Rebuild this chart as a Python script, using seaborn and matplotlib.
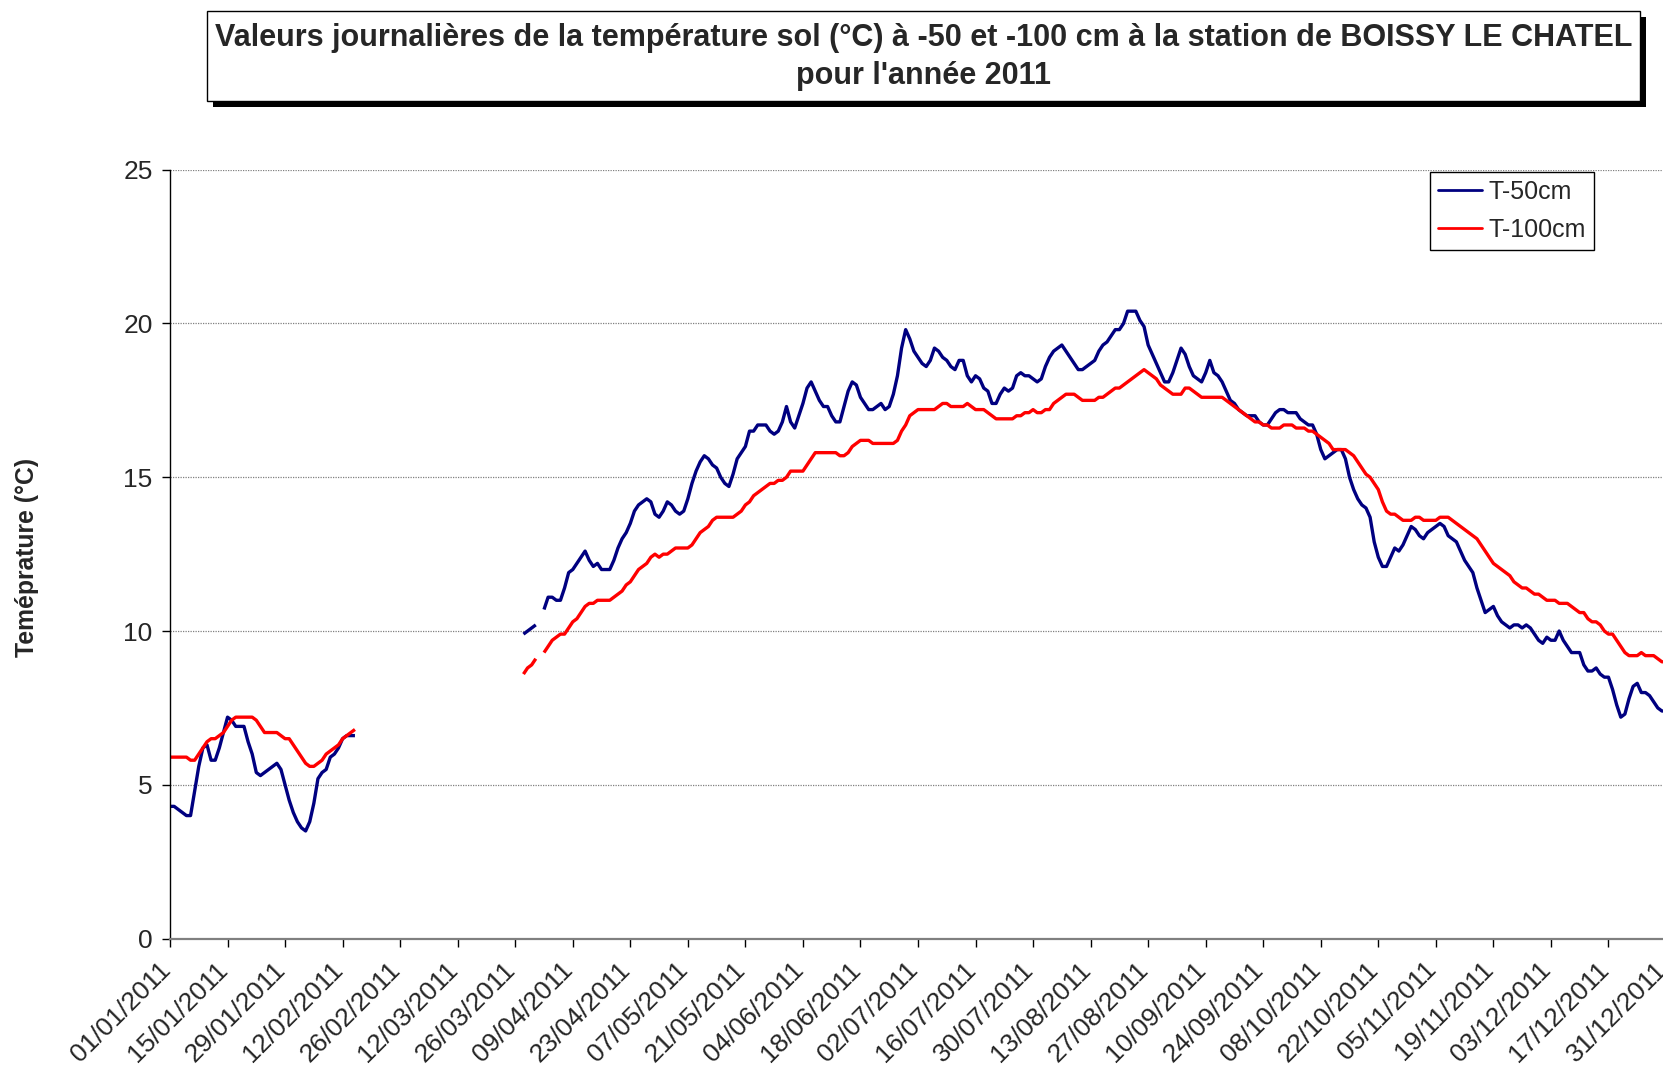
import numpy as np
import pandas as pd
import seaborn as sns
import matplotlib
matplotlib.use("Agg")
import matplotlib.pyplot as plt
import matplotlib.dates as mdates
from matplotlib.patches import Rectangle
from matplotlib.lines import Line2D
from matplotlib.transforms import ScaledTranslation

# ---------------- data ----------------
title_lines = ["Valeurs journalières de la température sol (°C) à -50 et -100 cm à la station de BOISSY LE CHATEL",
               "pour l'année 2011"]
y_label = "Teméprature (°C)"
series_names = ["T-50cm", "T-100cm"]
series_colors = ["#000080", "#FF0000"]

# segment start dates
seg_starts = ["2011-01-01", "2011-03-28", "2011-04-02"]

# T-50cm
t50_jan_feb = [4.3, 4.3, 4.2, 4.1, 4.0, 4.0, 4.8, 5.6, 6.2, 6.3,
               5.8, 5.8, 6.2, 6.7, 7.2, 7.1, 6.9, 6.9, 6.9, 6.4,
               6.0, 5.4, 5.3, 5.4, 5.5, 5.6, 5.7, 5.5, 5.0, 4.5,
               4.1, 3.8, 3.6, 3.5, 3.8, 4.4, 5.2, 5.4, 5.5, 5.9,
               6.0, 6.2, 6.5, 6.6, 6.6, 6.6]
t50_end_mar = [9.9, 10.0, 10.1, 10.2]
t50_apr_dec = [10.7, 11.1, 11.1, 11.0, 11.0, 11.4, 11.9, 12.0, 12.2, 12.4,
               12.6, 12.3, 12.1, 12.2, 12.0, 12.0, 12.0, 12.3, 12.7, 13.0,
               13.2, 13.5, 13.9, 14.1, 14.2, 14.3, 14.2, 13.8, 13.7, 13.9,
               14.2, 14.1, 13.9, 13.8, 13.9, 14.3, 14.8, 15.2, 15.5, 15.7,
               15.6, 15.4, 15.3, 15.0, 14.8, 14.7, 15.1, 15.6, 15.8, 16.0,
               16.5, 16.5, 16.7, 16.7, 16.7, 16.5, 16.4, 16.5, 16.8, 17.3,
               16.8, 16.6, 17.0, 17.4, 17.9, 18.1, 17.8, 17.5, 17.3, 17.3,
               17.0, 16.8, 16.8, 17.3, 17.8, 18.1, 18.0, 17.6, 17.4, 17.2,
               17.2, 17.3, 17.4, 17.2, 17.3, 17.7, 18.3, 19.2, 19.8, 19.5,
               19.1, 18.9, 18.7, 18.6, 18.8, 19.2, 19.1, 18.9, 18.8, 18.6,
               18.5, 18.8, 18.8, 18.3, 18.1, 18.3, 18.2, 17.9, 17.8, 17.4,
               17.4, 17.7, 17.9, 17.8, 17.9, 18.3, 18.4, 18.3, 18.3, 18.2,
               18.1, 18.2, 18.6, 18.9, 19.1, 19.2, 19.3, 19.1, 18.9, 18.7,
               18.5, 18.5, 18.6, 18.7, 18.8, 19.1, 19.3, 19.4, 19.6, 19.8,
               19.8, 20.0, 20.4, 20.4, 20.4, 20.1, 19.9, 19.3, 19.0, 18.7,
               18.4, 18.1, 18.1, 18.4, 18.8, 19.2, 19.0, 18.6, 18.3, 18.2,
               18.1, 18.4, 18.8, 18.4, 18.3, 18.1, 17.8, 17.5, 17.4, 17.2,
               17.1, 17.0, 17.0, 17.0, 16.8, 16.7, 16.7, 16.9, 17.1, 17.2,
               17.2, 17.1, 17.1, 17.1, 16.9, 16.8, 16.7, 16.7, 16.4, 15.9,
               15.6, 15.7, 15.8, 15.9, 15.9, 15.6, 15.0, 14.6, 14.3, 14.1,
               14.0, 13.7, 12.9, 12.4, 12.1, 12.1, 12.4, 12.7, 12.6, 12.8,
               13.1, 13.4, 13.3, 13.1, 13.0, 13.2, 13.3, 13.4, 13.5, 13.4,
               13.1, 13.0, 12.9, 12.6, 12.3, 12.1, 11.9, 11.4, 11.0, 10.6,
               10.7, 10.8, 10.5, 10.3, 10.2, 10.1, 10.2, 10.2, 10.1, 10.2,
               10.1, 9.9, 9.7, 9.6, 9.8, 9.7, 9.7, 10.0, 9.7, 9.5,
               9.3, 9.3, 9.3, 8.9, 8.7, 8.7, 8.8, 8.6, 8.5, 8.5,
               8.1, 7.6, 7.2, 7.3, 7.8, 8.2, 8.3, 8.0, 8.0, 7.9,
               7.7, 7.5, 7.4, 7.4]

# T-100cm
t100_jan_feb = [5.9, 5.9, 5.9, 5.9, 5.9, 5.8, 5.8, 6.0, 6.2, 6.4,
                6.5, 6.5, 6.6, 6.7, 6.9, 7.1, 7.2, 7.2, 7.2, 7.2,
                7.2, 7.1, 6.9, 6.7, 6.7, 6.7, 6.7, 6.6, 6.5, 6.5,
                6.3, 6.1, 5.9, 5.7, 5.6, 5.6, 5.7, 5.8, 6.0, 6.1,
                6.2, 6.3, 6.5, 6.6, 6.7, 6.8]
t100_end_mar = [8.6, 8.8, 8.9, 9.1]
t100_apr_dec = [9.3, 9.5, 9.7, 9.8, 9.9, 9.9, 10.1, 10.3, 10.4, 10.6,
                10.8, 10.9, 10.9, 11.0, 11.0, 11.0, 11.0, 11.1, 11.2, 11.3,
                11.5, 11.6, 11.8, 12.0, 12.1, 12.2, 12.4, 12.5, 12.4, 12.5,
                12.5, 12.6, 12.7, 12.7, 12.7, 12.7, 12.8, 13.0, 13.2, 13.3,
                13.4, 13.6, 13.7, 13.7, 13.7, 13.7, 13.7, 13.8, 13.9, 14.1,
                14.2, 14.4, 14.5, 14.6, 14.7, 14.8, 14.8, 14.9, 14.9, 15.0,
                15.2, 15.2, 15.2, 15.2, 15.4, 15.6, 15.8, 15.8, 15.8, 15.8,
                15.8, 15.8, 15.7, 15.7, 15.8, 16.0, 16.1, 16.2, 16.2, 16.2,
                16.1, 16.1, 16.1, 16.1, 16.1, 16.1, 16.2, 16.5, 16.7, 17.0,
                17.1, 17.2, 17.2, 17.2, 17.2, 17.2, 17.3, 17.4, 17.4, 17.3,
                17.3, 17.3, 17.3, 17.4, 17.3, 17.2, 17.2, 17.2, 17.1, 17.0,
                16.9, 16.9, 16.9, 16.9, 16.9, 17.0, 17.0, 17.1, 17.1, 17.2,
                17.1, 17.1, 17.2, 17.2, 17.4, 17.5, 17.6, 17.7, 17.7, 17.7,
                17.6, 17.5, 17.5, 17.5, 17.5, 17.6, 17.6, 17.7, 17.8, 17.9,
                17.9, 18.0, 18.1, 18.2, 18.3, 18.4, 18.5, 18.4, 18.3, 18.2,
                18.0, 17.9, 17.8, 17.7, 17.7, 17.7, 17.9, 17.9, 17.8, 17.7,
                17.6, 17.6, 17.6, 17.6, 17.6, 17.6, 17.5, 17.4, 17.3, 17.2,
                17.1, 17.0, 16.9, 16.8, 16.8, 16.7, 16.7, 16.6, 16.6, 16.6,
                16.7, 16.7, 16.7, 16.6, 16.6, 16.6, 16.5, 16.5, 16.4, 16.3,
                16.2, 16.1, 15.9, 15.9, 15.9, 15.9, 15.8, 15.7, 15.5, 15.3,
                15.1, 15.0, 14.8, 14.6, 14.2, 13.9, 13.8, 13.8, 13.7, 13.6,
                13.6, 13.6, 13.7, 13.7, 13.6, 13.6, 13.6, 13.6, 13.7, 13.7,
                13.7, 13.6, 13.5, 13.4, 13.3, 13.2, 13.1, 13.0, 12.8, 12.6,
                12.4, 12.2, 12.1, 12.0, 11.9, 11.8, 11.6, 11.5, 11.4, 11.4,
                11.3, 11.2, 11.2, 11.1, 11.0, 11.0, 11.0, 10.9, 10.9, 10.9,
                10.8, 10.7, 10.6, 10.6, 10.4, 10.3, 10.3, 10.2, 10.0, 9.9,
                9.9, 9.7, 9.5, 9.3, 9.2, 9.2, 9.2, 9.3, 9.2, 9.2,
                9.2, 9.1, 9.0, 9.0]

y_ticks = [0, 5, 10, 15, 20, 25]

# ---------------- build long table ----------------
rows = []
segments = {
    "T-50cm": [t50_jan_feb, t50_end_mar, t50_apr_dec],
    "T-100cm": [t100_jan_feb, t100_end_mar, t100_apr_dec],
}
for name, segs in segments.items():
    for k, (start, vals) in enumerate(zip(seg_starts, segs)):
        dates = pd.date_range(start, periods=len(vals), freq="D")
        for d, v in zip(dates, vals):
            rows.append({"date": d, "value": v, "series": name, "segment": f"{name}_{k}"})
df = pd.DataFrame(rows)

# ---------------- figure ----------------
sns.set_style("white")
plt.rcParams["font.family"] = ["Liberation Sans", "DejaVu Sans"]

W, H = 1663, 1073
fig = plt.figure(figsize=(W / 100, H / 100), dpi=100)

def fx(px):
    return px / W

def fy(py):
    return 1 - py / H

ax_left, ax_right = 170, 1666
ax_top, ax_bottom = 169.7, 938.6
ax = fig.add_axes([fx(ax_left), fy(ax_bottom), (ax_right - ax_left) / W, (ax_bottom - ax_top) / H])

palette = dict(zip(series_names, series_colors))
sns.lineplot(data=df, x="date", y="value", hue="series", units="segment",
             estimator=None, palette=palette, linewidth=2.4, legend=False, ax=ax,
             hue_order=series_names)
for ln in ax.get_lines():
    ln.set_solid_joinstyle("round")
    ln.set_solid_capstyle("butt")

ax.set_xlim(pd.Timestamp("2011-01-01"), pd.Timestamp("2011-12-31"))
ax.set_ylim(0, 25)
ax.set_yticks(y_ticks)
ax.set_yticklabels([str(t) for t in y_ticks])
xt = pd.date_range("2011-01-01", "2011-12-31", freq="14D")
ax.set_xticks(xt)
ax.xaxis.set_major_formatter(mdates.DateFormatter("%d/%m/%Y"))
ax.set_xlabel("")
ax.set_ylabel("")

ax.grid(axis="y", color="#808080", linestyle=(0, (1, 1)), linewidth=0.9)
ax.grid(axis="x", visible=False)
ax.set_axisbelow(True)

for s in ["top", "right"]:
    ax.spines[s].set_visible(False)
ax.spines["left"].set_color("#000000")
ax.spines["left"].set_linewidth(1.0)
ax.spines["bottom"].set_color("#808080")
ax.spines["bottom"].set_linewidth(1.6)

ax.tick_params(axis="y", which="major", direction="out", length=6, width=1.0,
               color="#000000", labelsize=19, pad=6.5, left=True)
ax.tick_params(axis="x", which="major", direction="out", length=5.5, width=1.0,
               color="#000000", labelsize=19, pad=8, bottom=True)
offset = ScaledTranslation(-12 / 100, 0, fig.dpi_scale_trans)
for lab in ax.get_xticklabels():
    lab.set_rotation(45)
    lab.set_rotation_mode("anchor")
    lab.set_ha("right")
    lab.set_va("top")
    lab.set_transform(lab.get_transform() + offset)

# y label
fig.text(fx(27), fy(557), y_label, rotation=90, ha="center", va="center",
         fontsize=17.8, fontweight="bold")

# legend
handles = [Line2D([], [], color=c, linewidth=2.0) for c in series_colors]
leg = fig.legend(handles, series_names, loc="upper left",
                 bbox_to_anchor=(fx(1430), fy(172)), bbox_transform=fig.transFigure,
                 frameon=True, fancybox=False, edgecolor="#000000", framealpha=1,
                 fontsize=18, handlelength=1.75, handletextpad=0.28,
                 borderpad=0.32, labelspacing=0.56, borderaxespad=0)
leg.get_frame().set_linewidth(1.0)

# title box with shadow
bx0, bx1, by0, by1 = 207, 1640, 10.6, 100.7
shadow = Rectangle((fx(bx0 + 6), fy(by1 + 6)), (bx1 - bx0) / W, (by1 - by0) / H,
                   transform=fig.transFigure, facecolor="#000000", edgecolor="none")
box = Rectangle((fx(bx0), fy(by1)), (bx1 - bx0) / W, (by1 - by0) / H,
                transform=fig.transFigure, facecolor="white", edgecolor="#000000",
                linewidth=1.0)
fig.patches.extend([shadow, box])
cx = (bx0 + bx1) / 2
fig.text(fx(cx), fy(38), title_lines[0], ha="center", va="center",
         fontsize=22, fontweight="bold")
fig.text(fx(cx), fy(76), title_lines[1], ha="center", va="center",
         fontsize=22, fontweight="bold")

fig.savefig("out.png", dpi=100)
